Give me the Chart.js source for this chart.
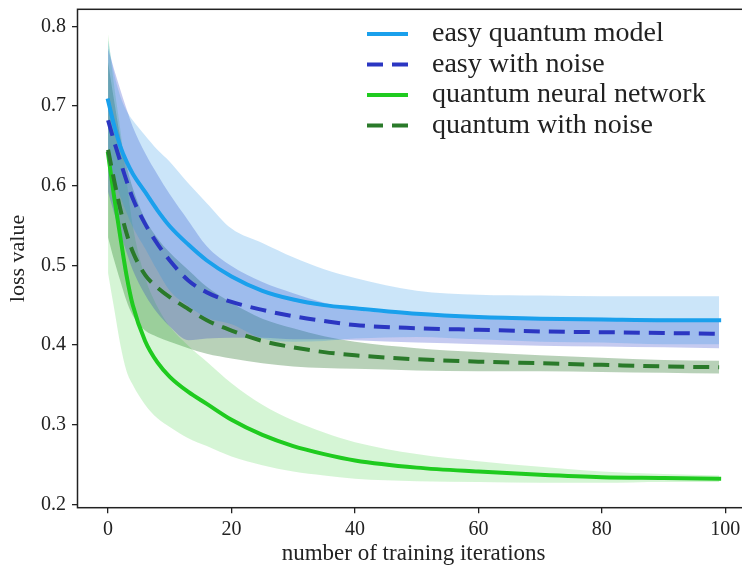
<!DOCTYPE html>
<html>
<head>
<meta charset="utf-8">
<script src="https://cdn.jsdelivr.net/npm/chart.js@4.4.1/dist/chart.umd.min.js"></script>
<style>
  html, body { margin: 0; padding: 0; background: #fff; overflow: hidden; }
  canvas { display: block; }
</style>
</head>
<body>
<canvas id="lossChart" width="752" height="565"></canvas>
<script>
// training iterations at which the curves were sampled
const iters = [0, 1, 2, 3, 4, 6, 8, 10, 13, 16, 20, 25, 30, 35, 40, 50, 60, 70, 80, 90, 99];

// easy quantum model (noiseless)
const easyMean = [0.707, 0.675, 0.649, 0.630, 0.615, 0.592, 0.569, 0.549, 0.526, 0.506, 0.486, 0.468, 0.457, 0.450, 0.446, 0.439, 0.435, 0.433, 0.432, 0.431, 0.431];
const easyStd  = [0.075, 0.065, 0.063, 0.064, 0.067, 0.071, 0.076, 0.081, 0.077, 0.072, 0.060, 0.060, 0.053, 0.045, 0.038, 0.029, 0.028, 0.029, 0.029, 0.030, 0.030];

// easy model with noise
const easyNoiseMean = [0.682, 0.655, 0.630, 0.606, 0.584, 0.552, 0.527, 0.506, 0.481, 0.466, 0.454, 0.444, 0.436, 0.430, 0.425, 0.421, 0.419, 0.417, 0.416, 0.415, 0.414];
const easyNoiseStd  = [0.090, 0.090, 0.090, 0.090, 0.090, 0.089, 0.087, 0.083, 0.075, 0.058, 0.045, 0.035, 0.029, 0.023, 0.019, 0.018, 0.018, 0.018, 0.018, 0.018, 0.018];

// quantum neural network (noiseless)
const qnnMean = [0.640, 0.585, 0.535, 0.487, 0.450, 0.405, 0.378, 0.360, 0.341, 0.326, 0.306, 0.287, 0.273, 0.263, 0.255, 0.246, 0.241, 0.237, 0.234, 0.233, 0.232];
const qnnStd  = [0.150, 0.140, 0.135, 0.120, 0.100, 0.080, 0.070, 0.063, 0.058, 0.053, 0.046, 0.038, 0.032, 0.027, 0.023, 0.017, 0.013, 0.010, 0.007, 0.005, 0.004];

// quantum neural network with noise
const qnnNoiseMean = [0.645, 0.606, 0.570, 0.540, 0.517, 0.488, 0.472, 0.460, 0.445, 0.431, 0.418, 0.405, 0.397, 0.391, 0.387, 0.382, 0.379, 0.377, 0.375, 0.373, 0.372];
const qnnNoiseStd  = [0.110, 0.100, 0.090, 0.085, 0.080, 0.070, 0.062, 0.056, 0.049, 0.042, 0.035, 0.028, 0.024, 0.020, 0.017, 0.014, 0.012, 0.010, 0.009, 0.008, 0.008];

const xTicks = [0, 20, 40, 60, 80, 100];
const yTicks = [0.2, 0.3, 0.4, 0.5, 0.6, 0.7, 0.8];

const FONT = '"Liberation Serif", "Times New Roman", serif';
const INK = '#222';

const series = [
  { label: 'easy quantum model',      mean: easyMean,      std: easyStd,      color: '#1aa0ec', band: 'rgba(30,144,230,0.23)', dash: [] },
  { label: 'easy with noise',         mean: easyNoiseMean, std: easyNoiseStd, color: '#2b36c2', band: 'rgba(40,60,200,0.27)',  dash: [16, 9] },
  { label: 'quantum neural network',  mean: qnnMean,       std: qnnStd,       color: '#1fcb1f', band: 'rgba(31,203,31,0.19)',  dash: [] },
  { label: 'quantum with noise',      mean: qnnNoiseMean,  std: qnnNoiseStd,  color: '#2a7a2a', band: 'rgba(40,115,40,0.33)',  dash: [16, 9] }
];

const pts = ys => iters.map((x, i) => ({ x: x, y: ys[i] }));

const datasets = [];
series.forEach((s, k) => {
  const upper = s.mean.map((m, i) => m + s.std[i]);
  const lower = s.mean.map((m, i) => m - s.std[i]);
  // later series sit on top, like a plain plot() sequence
  datasets.push({
    label: s.label,
    data: pts(s.mean),
    borderColor: s.color,
    borderWidth: 4,
    borderDash: s.dash,
    borderCapStyle: s.dash.length ? 'butt' : 'square',
    pointRadius: 0,
    fill: false,
    cubicInterpolationMode: 'monotone',
    order: 10 - k
  });
  datasets.push({
    label: s.label + ' upper',
    data: pts(upper),
    borderWidth: 0,
    pointRadius: 0,
    backgroundColor: s.band,
    fill: '+1',
    cubicInterpolationMode: 'monotone',
    order: 20 + k
  });
  datasets.push({
    label: s.label + ' lower',
    data: pts(lower),
    borderWidth: 0,
    pointRadius: 0,
    fill: false,
    cubicInterpolationMode: 'monotone',
    order: 20 + k
  });
});

// top/right spines plus the legend box in the upper right
const frame = {
  id: 'frame',
  afterDatasetsDraw(chart) {
    const { ctx, chartArea: a } = chart;
    ctx.save();
    ctx.strokeStyle = INK;
    ctx.lineWidth = 1.5;
    ctx.strokeRect(a.left, a.top, a.right - a.left, a.bottom - a.top);
    ctx.restore();
  },
  afterDraw(chart) {
    const ctx = chart.ctx;
    ctx.save();
    series.forEach((s, i) => {
      const y = 34 + i * 30.5;
      ctx.strokeStyle = s.color;
      ctx.lineWidth = 4;
      ctx.lineCap = 'butt';
      ctx.setLineDash(s.dash);
      ctx.beginPath();
      ctx.moveTo(367, y);
      ctx.lineTo(408, y);
      ctx.stroke();
      ctx.setLineDash([]);
      ctx.fillStyle = INK;
      ctx.font = '28px ' + FONT;
      ctx.textBaseline = 'middle';
      ctx.textAlign = 'left';
      ctx.fillText(s.label, 432, y);
    });
    ctx.restore();
  }
};

new Chart(document.getElementById('lossChart'), {
  type: 'line',
  data: { datasets: datasets },
  plugins: [frame],
  options: {
    responsive: false,
    animation: false,
    devicePixelRatio: 1,
    layout: { autoPadding: false, padding: { left: 0, right: 2.3, top: 9.3, bottom: 0 } },
    plugins: {
      legend: { display: false },
      tooltip: { enabled: false },
      filler: { drawTime: 'beforeDatasetsDraw' }
    },
    scales: {
      x: {
        type: 'linear',
        min: -4.95,
        max: 103.95,
        afterBuildTicks: s => { s.ticks = xTicks.map(v => ({ value: v })); },
        afterFit: s => { s.height = 57.3; s.paddingLeft = 0; s.paddingRight = 0; },
        border: { display: false },
        grid: { drawOnChartArea: false, drawTicks: true, tickLength: 5.5, color: INK, lineWidth: 1.3 },
        ticks: { color: INK, font: { family: FONT, size: 20 }, padding: 5, maxRotation: 0, autoSkip: false },
        title: { display: true, text: 'number of training iterations', color: INK,
                 font: { family: FONT, size: 23, lineHeight: 1 }, padding: { top: 0, bottom: 0 } }
      },
      y: {
        type: 'linear',
        min: 0.1957,
        max: 0.8213,
        afterBuildTicks: s => { s.ticks = yTicks.map(v => ({ value: v })); },
        afterFit: s => { s.width = 77.5; s.paddingTop = 0; s.paddingBottom = 0; },
        border: { display: false },
        grid: { drawOnChartArea: false, drawTicks: true, tickLength: 5.5, color: INK, lineWidth: 1.3 },
        ticks: { color: INK, font: { family: FONT, size: 20 }, padding: 6,
                 callback: v => v.toFixed(1) },
        title: { display: true, text: 'loss value', color: INK,
                 font: { family: FONT, size: 22, lineHeight: 1 }, padding: { top: 7, bottom: 0 } }
      }
    }
  }
});
</script>
</body>
</html>
